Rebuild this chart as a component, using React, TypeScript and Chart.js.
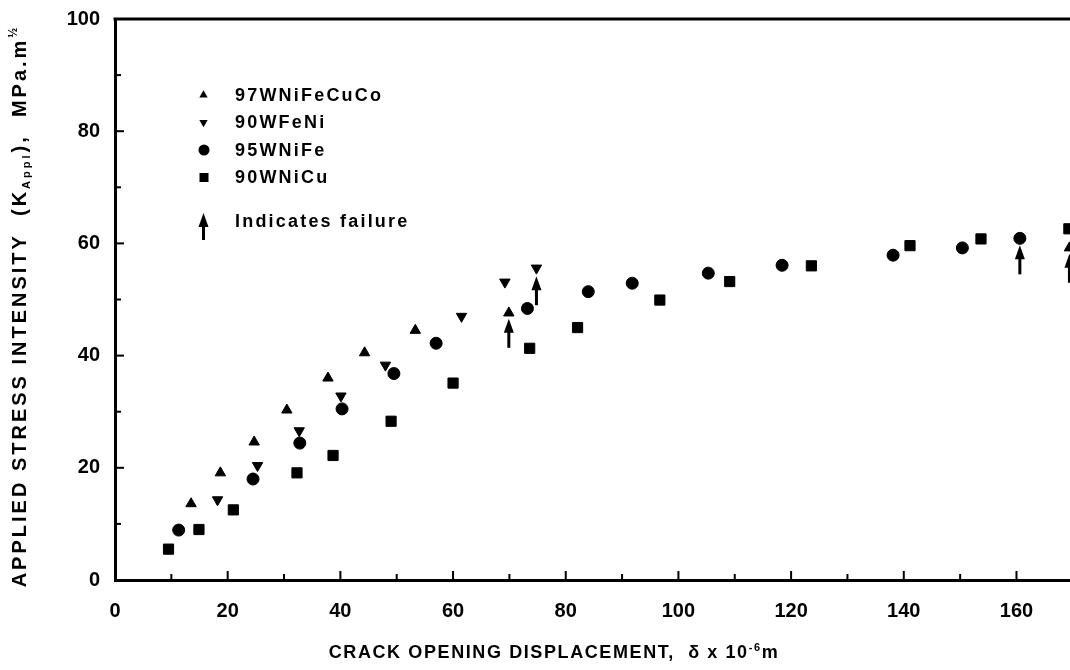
import { useEffect, useRef } from 'react';
import { Chart, registerables } from 'chart.js';

Chart.register(...registerables);

const FAMILY = '"Liberation Sans", Arial, Helvetica, sans-serif';

// ---- data ----
const seriesNames = ['97WNiFeCuCo', '90WFeNi', '95WNiFe', '90WNiCu'];

const triX = [13.5, 18.7, 24.7, 30.5, 37.8, 44.3, 53.3, 69.9, 169.4];
const triY = [13.6, 19.1, 24.6, 30.3, 36.0, 40.5, 44.5, 47.6, 59.2];

const invX = [18.2, 25.3, 32.7, 40.1, 48.0, 61.5, 69.2, 74.8];
const invY = [14.3, 20.4, 26.6, 32.8, 38.3, 47.0, 53.1, 55.6];

const cirX = [11.3, 24.5, 32.8, 40.3, 49.5, 57.0, 73.2, 84.0, 91.8, 105.3, 118.4, 138.1, 150.4, 160.6];
const cirY = [8.9, 18.0, 24.4, 30.5, 36.8, 42.2, 48.4, 51.4, 52.9, 54.7, 56.1, 57.9, 59.2, 60.9];

const sqX = [9.5, 14.9, 21.0, 32.3, 38.7, 49.0, 60.0, 73.6, 82.1, 96.7, 109.1, 123.6, 141.1, 153.7, 169.3];
const sqY = [5.5, 9.0, 12.5, 19.1, 22.2, 28.3, 35.1, 41.3, 45.0, 49.9, 53.2, 56.0, 59.6, 60.8, 62.6];

// points marked as failure (arrow drawn beneath)
const failX = [69.9, 74.8, 160.6, 169.4];
const failY = [47.8, 55.4, 60.9, 59.4];

const failureLabel = 'Indicates failure';
const xTitle = ['CRACK OPENING DISPLACEMENT,  \u03b4 x 10', '-6', 'm'];
const yTitle = ['APPLIED STRESS INTENSITY  (K', 'Appl', '),  MPa.m', '\u00bd'];

const X_MIN = 0;
const X_MAX = 169.5;
const Y_MIN = 0;
const Y_MAX = 100;
const MAJOR = 20;
const MINOR = 10;

const zip = (xs: number[], ys: number[]) => xs.map((x, i) => ({ x, y: ys[i] }));

function drawArrow(ctx: CanvasRenderingContext2D, x: number, tipY: number, len: number) {
  ctx.save();
  ctx.fillStyle = '#000';
  ctx.beginPath();
  ctx.moveTo(x, tipY);
  ctx.lineTo(x - 5, tipY + 14);
  ctx.lineTo(x + 5, tipY + 14);
  ctx.closePath();
  ctx.fill();
  ctx.fillRect(x - 1.5, tipY + 10, 3, len - 10);
  ctx.restore();
}

type Part = { t: string; size: number; dy: number };

function measureParts(ctx: CanvasRenderingContext2D, parts: Part[], spacing: string) {
  let w = 0;
  for (const p of parts) {
    ctx.font = `bold ${p.size}px ${FAMILY}`;
    (ctx as any).letterSpacing = spacing;
    w += ctx.measureText(p.t).width;
  }
  return w;
}

function renderParts(ctx: CanvasRenderingContext2D, parts: Part[], spacing: string, startX: number) {
  let x = startX;
  for (const p of parts) {
    ctx.font = `bold ${p.size}px ${FAMILY}`;
    (ctx as any).letterSpacing = spacing;
    ctx.fillText(p.t, x, p.dy);
    x += ctx.measureText(p.t).width;
  }
}

const decorPlugin = {
  id: 'decor',
  afterDatasetsDraw(chart: any) {
    const ctx: CanvasRenderingContext2D = chart.ctx;
    const xs = chart.scales.x;
    const ys = chart.scales.y;
    const area = chart.chartArea;

    ctx.save();
    ctx.strokeStyle = '#000';
    ctx.fillStyle = '#000';

    // top frame line
    ctx.lineWidth = 3;
    ctx.beginPath();
    ctx.moveTo(area.left - 1.5, area.top);
    ctx.lineTo(area.right + 2, area.top);
    ctx.stroke();

    // inward ticks
    ctx.lineWidth = 2;
    for (let v = X_MIN + MINOR; v < X_MAX; v += MINOR) {
      const px = xs.getPixelForValue(v);
      const len = v % MAJOR === 0 ? 9 : 6;
      ctx.beginPath();
      ctx.moveTo(px, area.bottom);
      ctx.lineTo(px, area.bottom - len);
      ctx.stroke();
    }
    for (let v = Y_MIN + MINOR; v < Y_MAX; v += MINOR) {
      const py = ys.getPixelForValue(v);
      const len = v % MAJOR === 0 ? 9 : 6;
      ctx.beginPath();
      ctx.moveTo(area.left, py);
      ctx.lineTo(area.left + len, py);
      ctx.stroke();
    }

    // failure arrows
    for (let i = 0; i < failX.length; i++) {
      const px = xs.getPixelForValue(failX[i]);
      const py = ys.getPixelForValue(failY[i]);
      drawArrow(ctx, px, py + 7, 29);
    }

    // legend
    const lx = 203.5;
    const tx = 235;
    const rows = [95, 122.5, 150, 177.5];
    ctx.textBaseline = 'middle';
    ctx.textAlign = 'left';
    const r = 4.8;
    ctx.beginPath();
    ctx.moveTo(lx, rows[0] - r);
    ctx.lineTo(lx - r * 0.866, rows[0] + r * 0.5);
    ctx.lineTo(lx + r * 0.866, rows[0] + r * 0.5);
    ctx.closePath();
    ctx.fill();
    ctx.beginPath();
    ctx.moveTo(lx, rows[1] + r);
    ctx.lineTo(lx - r * 0.866, rows[1] - r * 0.5);
    ctx.lineTo(lx + r * 0.866, rows[1] - r * 0.5);
    ctx.closePath();
    ctx.fill();
    ctx.beginPath();
    ctx.arc(lx + 0.5, rows[2], 5.5, 0, Math.PI * 2);
    ctx.fill();
    ctx.fillRect(lx + 0.5 - 4.5, rows[3] - 4.5, 9, 9);
    drawArrow(ctx, lx, 213, 27);

    ctx.font = `bold 18px ${FAMILY}`;
    (ctx as any).letterSpacing = '2.2px';
    seriesNames.forEach((n, i) => ctx.fillText(n, tx, rows[i] + 1));
    ctx.fillText(failureLabel, tx, 222);

    // x title
    ctx.textBaseline = 'alphabetic';
    const xp: Part[] = [
      { t: xTitle[0], size: 18, dy: 0 },
      { t: xTitle[1], size: 11, dy: -7 },
      { t: xTitle[2], size: 18, dy: 0 },
    ];
    const xsp = '1.6px';
    const xw = measureParts(ctx, xp, xsp);
    ctx.save();
    ctx.translate(554 - xw / 2, 658);
    renderParts(ctx, xp, xsp, 0);
    ctx.restore();

    // y title
    const yp: Part[] = [
      { t: yTitle[0], size: 20, dy: 0 },
      { t: yTitle[1], size: 11, dy: 4 },
      { t: yTitle[2], size: 20, dy: 0 },
      { t: yTitle[3], size: 12, dy: -9 },
    ];
    const ysp = '3px';
    const yw = measureParts(ctx, yp, ysp);
    ctx.save();
    ctx.translate(26, 306 + yw / 2);
    ctx.rotate(-Math.PI / 2);
    renderParts(ctx, yp, ysp, 0);
    ctx.restore();

    (ctx as any).letterSpacing = '0px';
    ctx.restore();
  },
};

export default function App() {
  const ref = useRef<HTMLCanvasElement | null>(null);

  useEffect(() => {
    if (!ref.current) return;
    const tickFont = { family: FAMILY, size: 20, weight: 'bold' as const };
    const chart = new Chart(ref.current, {
      type: 'scatter',
      data: {
        datasets: [
          {
            label: seriesNames[0],
            data: zip(triX, triY),
            pointStyle: 'triangle',
            pointRadius: 6,
            backgroundColor: '#000',
            borderColor: '#000',
            borderWidth: 1,
          },
          {
            label: seriesNames[1],
            data: zip(invX, invY),
            pointStyle: 'triangle',
            rotation: 180,
            pointRadius: 6,
            backgroundColor: '#000',
            borderColor: '#000',
            borderWidth: 1,
          },
          {
            label: seriesNames[2],
            data: zip(cirX, cirY),
            pointStyle: 'circle',
            pointRadius: 6,
            backgroundColor: '#000',
            borderColor: '#000',
            borderWidth: 1,
          },
          {
            label: seriesNames[3],
            data: zip(sqX, sqY),
            pointStyle: 'rect',
            pointRadius: 7.2,
            backgroundColor: '#000',
            borderColor: '#000',
            borderWidth: 1,
          },
        ] as any,
      },
      options: {
        animation: false,
        responsive: false,
        layout: { autoPadding: false, padding: { top: 19, right: 0, left: 0, bottom: 0 } },
        plugins: {
          legend: { display: false },
          tooltip: { enabled: false },
        },
        scales: {
          x: {
            type: 'linear',
            min: X_MIN,
            max: X_MAX,
            position: 'bottom',
            grid: { display: false, drawTicks: false },
            border: { display: true, color: '#000', width: 3 },
            ticks: {
              stepSize: MAJOR,
              includeBounds: false,
              color: '#000',
              font: tickFont,
              padding: 19,
              maxRotation: 0,
              autoSkip: false,
            },
            afterFit: (s: any) => {
              s.height = 90;
              s.paddingLeft = 0;
              s.paddingRight = 0;
            },
          },
          y: {
            type: 'linear',
            min: Y_MIN,
            max: Y_MAX,
            grid: { display: false, drawTicks: false },
            border: { display: true, color: '#000', width: 3 },
            ticks: {
              stepSize: MAJOR,
              color: '#000',
              font: tickFont,
              padding: 15,
            },
            afterFit: (s: any) => {
              s.width = 115;
              s.paddingTop = 0;
              s.paddingBottom = 0;
            },
          },
        },
      } as any,
      plugins: [decorPlugin],
    });
    return () => chart.destroy();
  }, []);

  return (
    <div style={{ position: 'absolute', left: 0, top: 0, width: 1070, height: 670, background: '#fff' }}>
      <canvas ref={ref} width={1070} height={670} style={{ display: 'block' }} />
    </div>
  );
}
